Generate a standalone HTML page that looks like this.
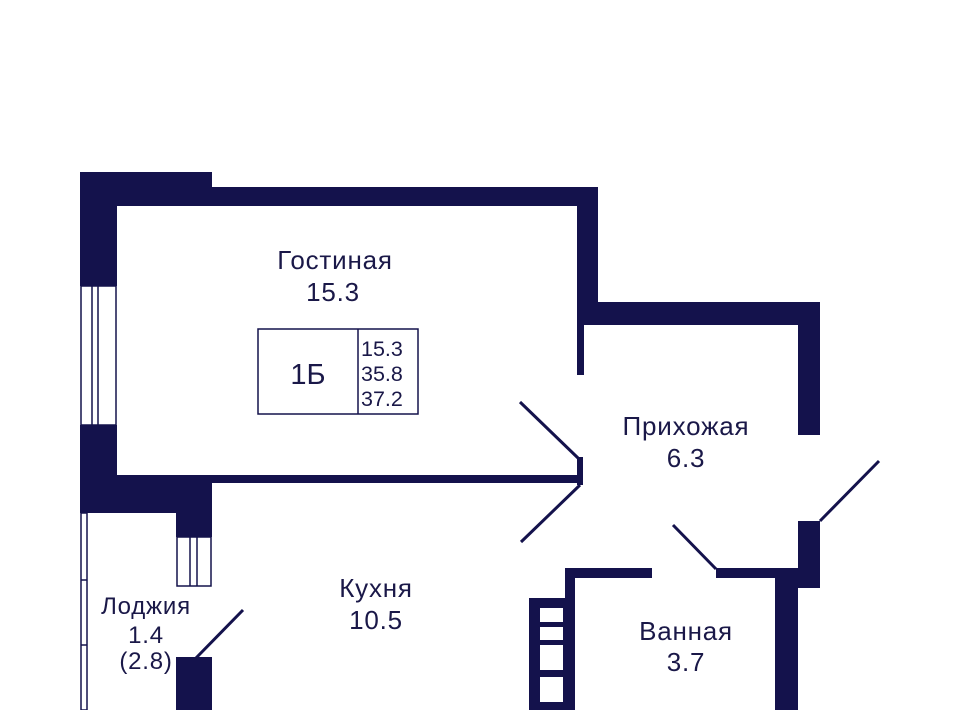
<!DOCTYPE html>
<html><head><meta charset="utf-8"><style>
html,body{margin:0;padding:0;background:#fff;width:960px;height:710px;overflow:hidden}
svg{display:block}
text{font-family:"Liberation Sans",sans-serif;fill:#1a1848;text-anchor:middle}
</style></head><body>
<svg width="960" height="710" viewBox="0 0 960 710" xmlns="http://www.w3.org/2000/svg">
<g fill="#14124c">
<rect x="80" y="172" width="132" height="34"/>
<rect x="80" y="187" width="518" height="19"/>
<rect x="80" y="172" width="37" height="114"/>
<rect x="80" y="425" width="37" height="88"/>
<rect x="577" y="187" width="21" height="138"/>
<rect x="577" y="302" width="243" height="23"/>
<rect x="577" y="320" width="7" height="55"/>
<rect x="798" y="302" width="22" height="133"/>
<rect x="117" y="475" width="465" height="8"/>
<rect x="577" y="457" width="6" height="28"/>
<rect x="80" y="475" width="132" height="38"/>
<rect x="176" y="475" width="36" height="62"/>
<rect x="798" y="521" width="22" height="67"/>
<rect x="775" y="568" width="23" height="142"/>
<rect x="716" y="568" width="82" height="10"/>
<rect x="565" y="568" width="87" height="10"/>
<rect x="565" y="568" width="10" height="142"/>
<rect x="529" y="598" width="36" height="112"/>
<rect x="176" y="657" width="36" height="53"/>
</g>
<g fill="#fff">
<rect x="540" y="608" width="23" height="14"/>
<rect x="540" y="627" width="23" height="13"/>
<rect x="540" y="645" width="23" height="25"/>
<rect x="540" y="677" width="23" height="25"/>
</g>
<g fill="#fff" stroke="#14124c" stroke-width="1.5">
<rect x="81" y="286" width="35" height="139"/>
<rect x="177" y="537" width="34" height="49"/>
<rect x="81" y="513" width="6" height="197"/>
</g>
<g stroke="#14124c" stroke-width="1.5">
<line x1="92" y1="286" x2="92" y2="425"/><line x1="98" y1="286" x2="98" y2="425"/>
<line x1="190" y1="537" x2="190" y2="586"/><line x1="197" y1="537" x2="197" y2="586"/>
<line x1="81" y1="580" x2="87" y2="580"/><line x1="81" y1="645" x2="87" y2="645"/>
</g>
<g stroke="#14124c" stroke-width="3">
<line x1="520" y1="402" x2="578" y2="458"/>
<line x1="580" y1="485" x2="521" y2="542"/>
<line x1="820" y1="521" x2="879" y2="461"/>
<line x1="673" y1="525" x2="716" y2="569"/>
<line x1="243" y1="610" x2="196" y2="658"/>
</g>
<rect x="258" y="329" width="160" height="85" fill="none" stroke="#14124c" stroke-width="1.5"/>
<line x1="358" y1="329" x2="358" y2="414" stroke="#14124c" stroke-width="1.5"/>
<text x="308" y="384" font-size="29">1Б</text>
<g font-size="21.5">
<text x="361" y="356" style="text-anchor:start">15.3</text>
<text x="361" y="381" style="text-anchor:start">35.8</text>
<text x="361" y="406" style="text-anchor:start">37.2</text>
</g>
<g font-size="26" letter-spacing="0.8">
<text x="335" y="269">Гостиная</text>
<text x="333" y="301">15.3</text>
<text x="686" y="435">Прихожая</text>
<text x="686" y="467">6.3</text>
<text x="376" y="597">Кухня</text>
<text x="376" y="629">10.5</text>
<text x="686" y="640">Ванная</text>
<text x="686" y="671">3.7</text>
</g>
<g font-size="24" letter-spacing="0.8">
<text x="146" y="614">Лоджия</text>
<text x="146" y="643">1.4</text>
<text x="146" y="669">(2.8)</text>
</g>
</svg>
</body></html>
